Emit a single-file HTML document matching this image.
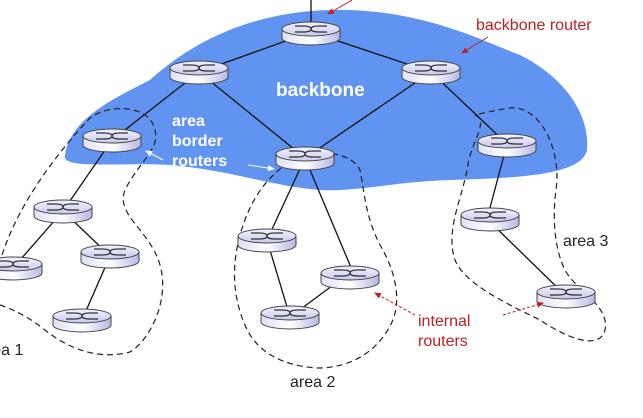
<!DOCTYPE html>
<html><head><style>html,body{margin:0;padding:0;background:#fff}svg{display:block}</style></head>
<body>
<svg width="643" height="418" viewBox="0 0 643 418" xmlns="http://www.w3.org/2000/svg" font-family="Liberation Sans, Arial, sans-serif">
<defs>
<linearGradient id="g" x1="0" x2="0" y1="0" y2="1"><stop offset="0" stop-color="#f4f4ff"/><stop offset="1" stop-color="#c8c8ee"/></linearGradient>
<linearGradient id="s" x1="0" x2="1"><stop offset="0" stop-color="#e0e0f6"/><stop offset="0.5" stop-color="#ffffff"/><stop offset="1" stop-color="#b8b8e4"/></linearGradient>
<g id="r">
<path d="M-29,0 v9 a29,7 0 0 0 58,0 v-9 z" fill="url(#s)" stroke="#444" stroke-width="1"/>
<ellipse cx="0" cy="0" rx="29" ry="7" fill="url(#g)" stroke="#444" stroke-width="1"/>
<path d="M-16,-3 h8 q8,0 8,3 q0,3 8,3 h8 M-16,3 h8 q8,0 8,-3 q0,-3 8,-3 h8" fill="none" stroke="#333" stroke-width="1.3"/>
</g>
<marker id="ar" markerWidth="8" markerHeight="8" refX="6" refY="3" orient="auto"><path d="M0,0 L7,3 L0,6 z" fill="#b22"/></marker>
<marker id="aw" markerWidth="8" markerHeight="8" refX="6" refY="3" orient="auto"><path d="M0,0 L7,3 L0,6 z" fill="#fff"/></marker>
</defs>
<path d="M65,155 C70,120 110,100 150,80 C200,35 260,12 330,10 C420,8 480,40 520,55 C560,75 590,110 587,150 C582,175 520,178 450,180 C390,182 360,192 320,190 C270,186 230,170 170,165 C120,162 60,170 65,155 Z" fill="#6094f0"/>
<g fill="none" stroke="#222" stroke-width="1.2" stroke-dasharray="6,4">
<path d="M2,255 C20,200 60,150 90,118 C110,103 150,105 155,130 C160,150 140,160 125,190 C115,215 150,230 160,265 C170,300 150,340 130,352 C100,360 70,350 45,330 C30,318 15,310 0,305"/>
<path d="M285,165 C300,148 350,148 360,170 C365,195 365,215 380,245 C395,270 402,300 392,322 C378,352 350,368 318,368 C280,366 255,350 245,325 C232,295 232,265 240,235 C250,200 265,180 285,165 Z"/>
<path d="M475,115 C490,120 470,145 468,165 C462,200 445,230 455,260 C465,285 510,305 540,320 C570,340 600,350 605,330 C610,305 575,290 565,270 C555,250 552,220 556,190 C562,150 540,105 510,108 C495,110 480,114 475,115"/>
</g>
<g stroke="#111" stroke-width="1.3">
<line x1="311" y1="0" x2="311" y2="29"/>
<line x1="311" y1="32" x2="199" y2="72"/><line x1="311" y1="32" x2="431" y2="72"/>
<line x1="199" y1="72" x2="112" y2="140"/><line x1="199" y1="72" x2="305" y2="158"/>
<line x1="431" y1="72" x2="305" y2="158"/><line x1="431" y1="72" x2="507" y2="144"/>
<line x1="112" y1="140" x2="63" y2="211"/><line x1="63" y1="211" x2="13" y2="268"/><line x1="63" y1="211" x2="110" y2="256"/><line x1="110" y1="256" x2="82" y2="320"/>
<line x1="305" y1="158" x2="267" y2="240"/><line x1="305" y1="158" x2="355" y2="277"/><line x1="267" y1="240" x2="290" y2="317"/><line x1="344" y1="277" x2="290" y2="317"/>
<line x1="507" y1="144" x2="487" y2="219"/><line x1="487" y1="219" x2="566" y2="296"/>
</g>
<use href="#r" x="311" y="29"/><use href="#r" x="199" y="68"/><use href="#r" x="431" y="68"/>
<use href="#r" x="112" y="136"/><use href="#r" x="305" y="154"/><use href="#r" x="507" y="141"/>
<use href="#r" x="63" y="207"/><use href="#r" x="110" y="252"/><use href="#r" x="13" y="264"/><use href="#r" x="82" y="316"/>
<use href="#r" x="267" y="236"/><use href="#r" x="350" y="273"/><use href="#r" x="290" y="313"/>
<use href="#r" x="490" y="215"/><use href="#r" x="566" y="292"/>
<g stroke="#b22" stroke-width="1" fill="none">
<line x1="352" y1="0" x2="328" y2="14" marker-end="url(#ar)"/>
<line x1="488" y1="37" x2="462" y2="53" marker-end="url(#ar)"/>
<line x1="415" y1="315" x2="375" y2="293" marker-end="url(#ar)" stroke-dasharray="3,2"/>
<line x1="503" y1="315" x2="543" y2="303" marker-end="url(#ar)" stroke-dasharray="3,2"/>
</g>
<g stroke="#fff" stroke-width="1" fill="none">
<line x1="163" y1="160" x2="146" y2="151" marker-end="url(#aw)"/>
<line x1="248" y1="165" x2="274" y2="169" marker-end="url(#aw)"/>
</g>
<text x="276" y="96" font-size="19" font-weight="bold" fill="#fff">backbone</text>
<g font-size="16" fill="#fff" font-weight="bold"><text x="172" y="126">area</text><text x="172" y="146">border</text><text x="172" y="166">routers</text></g>
<text x="476" y="30" font-size="16" fill="#b22">backbone router</text>
<g font-size="16" fill="#b22"><text x="418" y="326">internal</text><text x="418" y="346">routers</text></g>
<g font-size="16" fill="#222"><text x="563" y="246">area 3</text><text x="290" y="387">area 2</text><text x="-22" y="355">area 1</text></g>
</svg>
</body></html>
